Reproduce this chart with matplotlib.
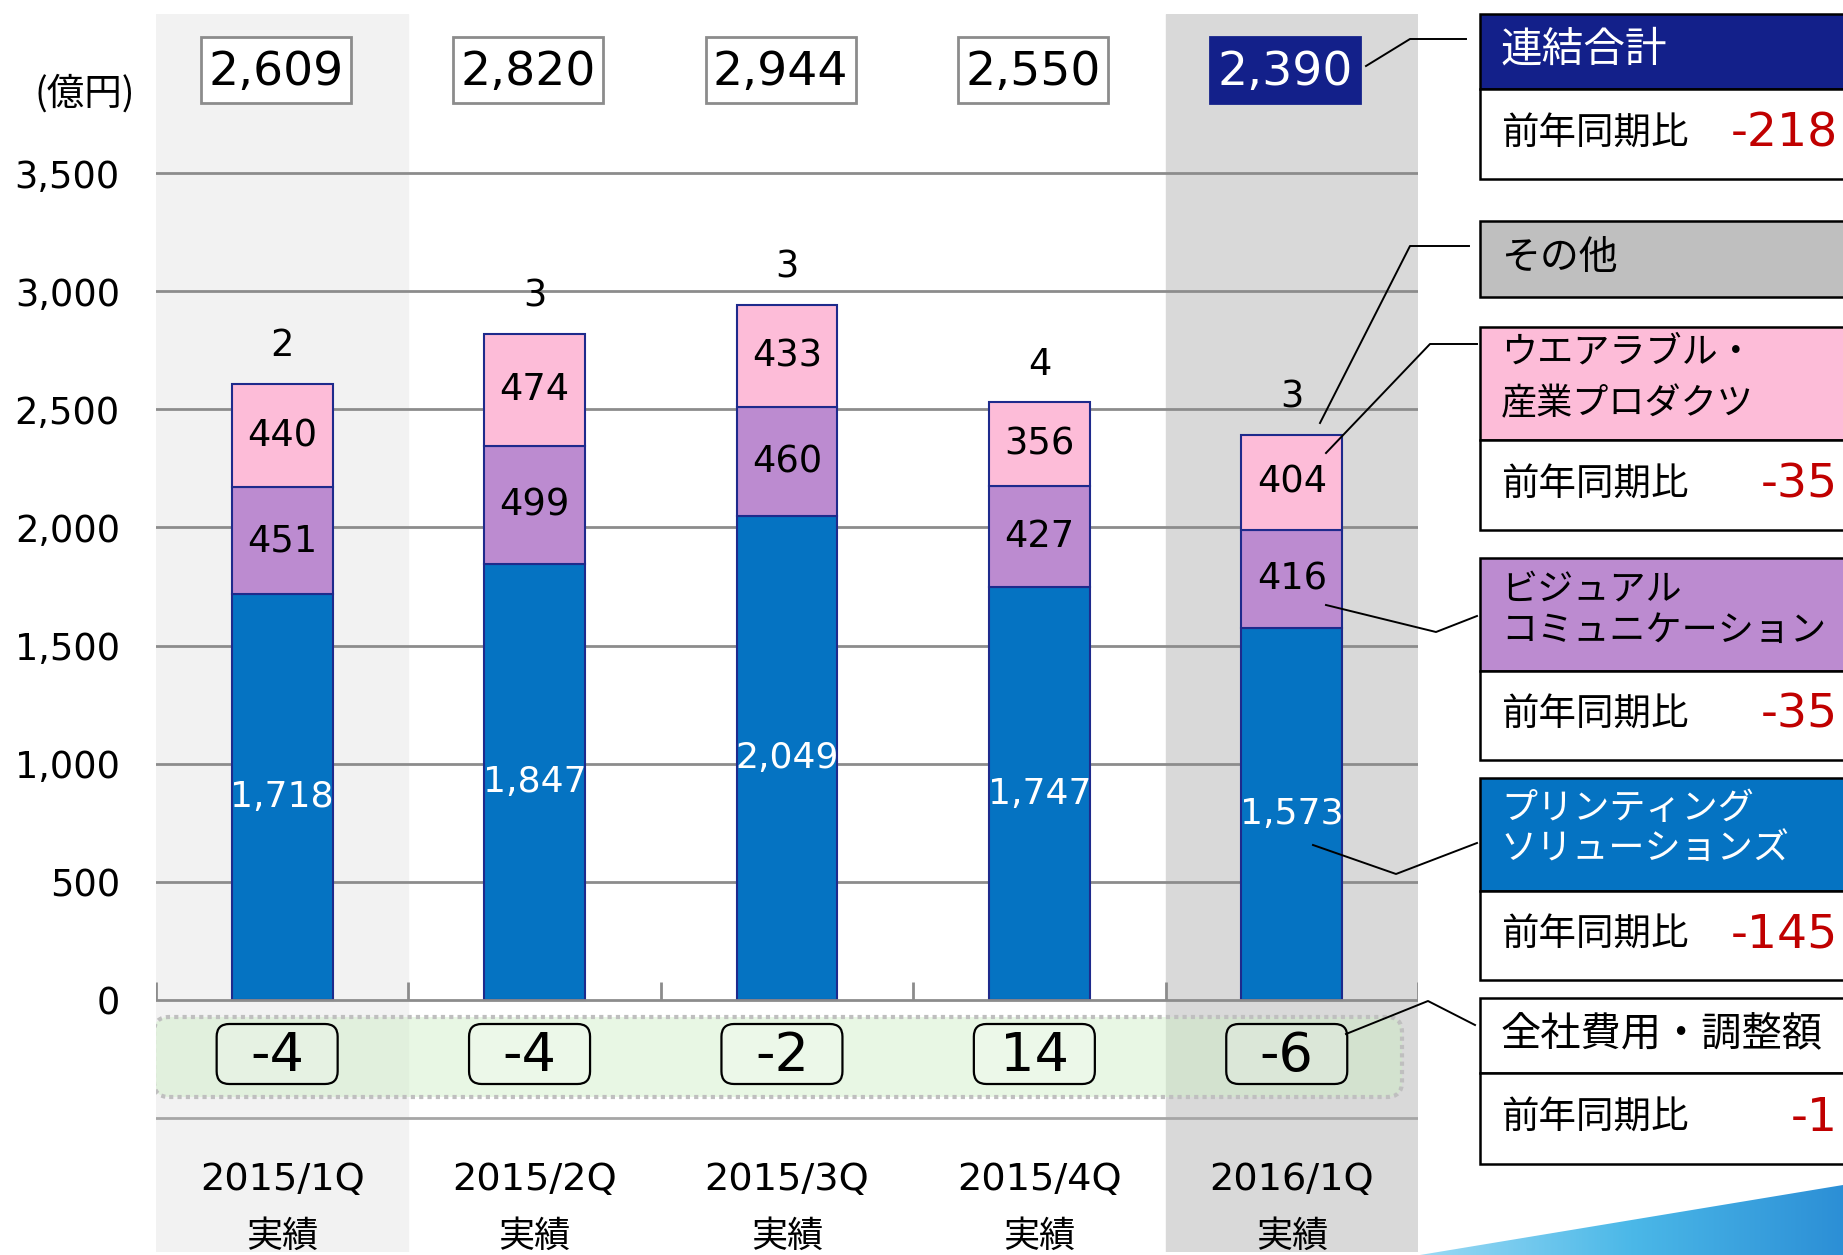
import matplotlib
matplotlib.use('Agg')
import matplotlib.pyplot as plt
import matplotlib.patches as mpatches
from matplotlib.colors import LinearSegmentedColormap
import numpy as np

plt.rcParams['font.family'] = ['DejaVu Sans', 'Noto Sans CJK JP']
JP = ['Noto Sans CJK JP', 'DejaVu Sans']

# data (億円)
quarters = ['2015/1Q', '2015/2Q', '2015/3Q', '2015/4Q', '2016/1Q']
sub_label = '実績'
printing = [1718, 1847, 2049, 1747, 1573]
visual = [451, 499, 460, 427, 416]
wearable = [440, 474, 433, 356, 404]
other = [2, 3, 3, 4, 3]
totals = [2609, 2820, 2944, 2550, 2390]
adjust = [-4, -4, -2, 14, -6]
yticks = [0, 500, 1000, 1500, 2000, 2500, 3000, 3500]

# right-hand panel, year-on-year change
yoy_label = '前年同期比'
yoy_total = -218
yoy_wearable = -35
yoy_visual = -35
yoy_printing = -145
yoy_adjust = -1

C_PRINT = '#0573C2'
C_VIS = '#BC8BD0'
C_WEAR = '#FDBCD8'
C_NAVY = '#13208A'
C_EDGE = '#1E2A8C'
C_GRID = '#8C8C8C'
C_RED = '#C00000'

W, H = 1843, 1255
fig = plt.figure(figsize=(W / 100, H / 100), dpi=100)

# plot area in pixels
L, R, T, B = 156, 1418, 14, 1252
Y0, Y3500 = 1000, 173
ppu = (Y0 - Y3500) / 3500.0          # pixels per 億円
ppx = (R - L) / 5.0                   # pixels per category


def yv(py):
    return (Y0 - py) / ppu


def xv(px):
    return (px - L) / ppx - 0.5


ax = fig.add_axes([L / W, 1 - B / H, (R - L) / W, (B - T) / H])
ax.set_xlim(-0.5, 4.5)
ax.set_ylim(yv(B), yv(T))
for s in ax.spines.values():
    s.set_visible(False)

ax.axvspan(-0.5, 0.5, color='#F2F2F2', zorder=0)
ax.axvspan(3.5, 4.5, color='#D9D9D9', zorder=0)

for t in yticks[1:]:
    ax.axhline(t, color=C_GRID, lw=2, zorder=1)
ax.axhline(0, color=C_GRID, lw=2, zorder=4)
ax.axhline(yv(1118), color='#A6A6A6', lw=2, zorder=1)
ax.vlines(np.arange(-0.5, 5.0, 1.0), 0, 18 / ppu, color=C_GRID, lw=2, zorder=1)

ax.set_xticks([])
ax.set_yticks(yticks)
ax.set_yticklabels([f'{t:,}' for t in yticks])
ax.tick_params(axis='y', length=0, pad=26, labelsize=26.5)

x = np.arange(len(quarters))
bw = 0.4
p1 = np.array(printing)
p2 = np.array(visual)
p3 = np.array(wearable)
ax.bar(x, p1, bw, color=C_PRINT, edgecolor=C_EDGE, lw=1.5, zorder=3)
ax.bar(x, p2, bw, bottom=p1, color=C_VIS, edgecolor=C_EDGE, lw=1.5, zorder=3)
ax.bar(x, p3, bw, bottom=p1 + p2, color=C_WEAR, edgecolor=C_EDGE, lw=1.5, zorder=3)

for i in x:
    ax.text(i, p1[i] / 2, f'{p1[i]:,}', color='white', fontsize=26,
            ha='center', va='center', zorder=5)
    ax.text(i, p1[i] + p2[i] / 2, f'{p2[i]:,}', fontsize=26.5,
            ha='center', va='center', zorder=5)
    ax.text(i, p1[i] + p2[i] + p3[i] / 2, f'{p3[i]:,}', fontsize=26.5,
            ha='center', va='center', zorder=5)
    top = p1[i] + p2[i] + p3[i]
    ax.text(i, top + 38 / ppu, f'{other[i]}', fontsize=26.5,
            ha='center', va='center', zorder=5)

# total boxes on top
bh = 65 / ppu
bwid = 150 / ppx
for i, tot in enumerate(totals):
    last = i == len(totals) - 1
    cx = i - 0.025
    ax.add_patch(mpatches.Rectangle((cx - bwid / 2, yv(70) - bh / 2), bwid, bh,
                                    fc=C_NAVY if last else 'white',
                                    ec=C_NAVY if last else C_GRID,
                                    lw=2, zorder=5))
    ax.text(cx, yv(72), f'{tot:,}', fontsize=34, ha='center', va='center',
            color='white' if last else 'black', zorder=6)

# adjustment band
asp = ppx / ppu
bx0, bx1 = xv(154), xv(1402)
by0, by1 = yv(1097), yv(1017)
ax.add_patch(mpatches.FancyBboxPatch((bx0, by0), bx1 - bx0, by1 - by0,
                                     boxstyle='round,pad=0,rounding_size=0.06',
                                     mutation_aspect=asp, fc='#CDEFC4', alpha=0.45,
                                     ec='none', zorder=2))
ax.add_patch(mpatches.FancyBboxPatch((bx0, by0), bx1 - bx0, by1 - by0,
                                     boxstyle='round,pad=0,rounding_size=0.06',
                                     mutation_aspect=asp, fc='none',
                                     ec='#BFBFBF', lw=3, ls=(0, (1, 1)), zorder=2))

aw, ah = 121 / ppx, 60 / ppu
for i, a in enumerate(adjust):
    cx = i - 0.02
    ax.add_patch(mpatches.FancyBboxPatch((cx - aw / 2, yv(1054) - ah / 2), aw, ah,
                                         boxstyle='round,pad=0,rounding_size=0.05',
                                         mutation_aspect=asp,
                                         fc=(1, 1, 1, 0.2), ec='black', lw=1.6,
                                         zorder=3))
    ax.text(cx, yv(1056), f'{a}', fontsize=39, ha='center', va='center', zorder=4)

for i, q in enumerate(quarters):
    ax.text(i, yv(1180), q, fontsize=27.5, ha='center', va='center')
    ax.text(i, yv(1237), sub_label, fontsize=26, family=JP, ha='center', va='center')

# overlay in pixel coordinates
ov = fig.add_axes([0, 0, 1, 1], zorder=5)
ov.set_xlim(0, W)
ov.set_ylim(H, 0)
ov.axis('off')
ov.patch.set_alpha(0)

ov.text(85, 94, '(億円)', fontsize=27, family=JP, ha='center', va='center')

PX0, PX1 = 1480, 1890
TX = 1501
NX = 1838


def panel(y0, y1, fc):
    ov.add_patch(mpatches.Rectangle((PX0, y0), PX1 - PX0, y1 - y0, fc=fc,
                                    ec='black', lw=1.8, zorder=2))


def body(y0, y1, val):
    panel(y0, y1, 'white')
    yc = (y0 + y1) / 2
    ov.text(TX, yc, yoy_label, fontsize=27, family=JP, ha='left', va='center', zorder=3)
    ov.text(NX, yc, f'{val}', fontsize=34, color=C_RED, ha='right', va='center', zorder=3)


panel(14, 89, C_NAVY)
ov.text(TX, 50, '連結合計', fontsize=30, family=JP, color='white', va='center', zorder=3)
body(89, 179, yoy_total)

panel(221, 297, '#BFBFBF')
ov.text(TX, 258, 'その他', fontsize=28, family=JP, va='center', zorder=3)

panel(327, 440, C_WEAR)
ov.text(TX, 353, 'ウエアラブル・', fontsize=26, family=JP, va='center', zorder=3)
ov.text(TX, 404, '産業プロダクツ', fontsize=26, family=JP, va='center', zorder=3)
body(440, 530, yoy_wearable)

panel(558, 671, C_VIS)
ov.text(TX, 590, 'ビジュアル', fontsize=26, family=JP, va='center', zorder=3)
ov.text(TX, 631, 'コミュニケーション', fontsize=26, family=JP, va='center', zorder=3)
body(671, 760, yoy_visual)

panel(778, 891, C_PRINT)
ov.text(TX, 809, 'プリンティング', fontsize=26, family=JP, color='white', va='center', zorder=3)
ov.text(TX, 849, 'ソリューションズ', fontsize=26, family=JP, color='white', va='center', zorder=3)
body(891, 980, yoy_printing)

panel(998, 1073, 'white')
ov.text(TX, 1034, '全社費用・調整額', fontsize=29, family=JP, va='center', zorder=3)
body(1073, 1164, yoy_adjust)

# callout lines
lines = [
    [(1366, 66), (1410, 39), (1466, 39)],
    [(1320, 423), (1410, 246), (1469, 246)],
    [(1326, 453), (1430, 344), (1477, 344)],
    [(1326, 605), (1436, 632), (1477, 616)],
    [(1313, 845), (1396, 874), (1477, 843)],
    [(1346, 1034), (1428, 1001), (1475, 1025)],
]
for pts in lines:
    xs, ys = zip(*pts)
    ov.plot(xs, ys, color='black', lw=1.4, zorder=4)

# decorative swoosh bottom right
swoosh = mpatches.Polygon([(1420, 1255), (1843, 1185), (1843, 1255)], closed=True,
                          fc='none', ec='none')
ov.add_patch(swoosh)
cmap = LinearSegmentedColormap.from_list('sw', ['#9BDAF4', '#4BB8E8', '#2C8FD6'])
grad = np.tile(np.linspace(0, 1, 256), (16, 1))
im = ov.imshow(grad, cmap=cmap, extent=(1420, 1843, 1255, 1180), aspect='auto', zorder=1)
im.set_clip_path(swoosh)
ov.set_xlim(0, W)
ov.set_ylim(H, 0)

fig.savefig('out.png', dpi=100)
